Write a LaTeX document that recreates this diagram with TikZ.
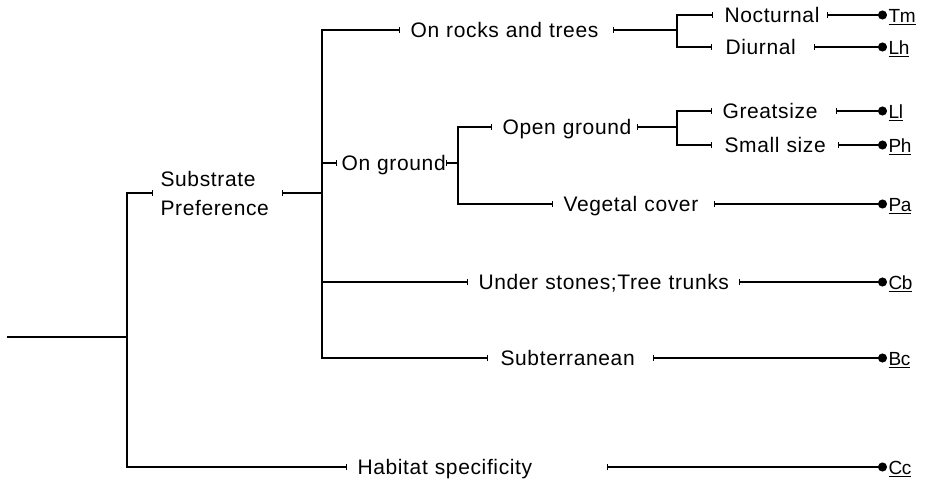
\documentclass[tikz,border=0pt]{standalone}
\usepackage{fontspec}
\setmainfont{Liberation Sans}[LetterSpace=3]
\usetikzlibrary{arrows.meta}

\begin{document}
\begin{tikzpicture}[x=1pt,y=-1pt,
  every path/.style={line width=1.1pt},
  branch/.style={-{Bar[width=6pt,line width=1.1pt]}},
  stem/.style={{Bar[width=6pt,line width=1.1pt]}-},
  lead/.style={{Bar[width=6pt,line width=1.1pt]}-{Circle[length=9pt,width=9pt]}},
  term/.style={anchor=west, inner sep=0pt, align=left,
    text height=15pt, text depth=0pt,
    font=\fontsize{21}{24}\selectfont},
  tag/.style={anchor=west, inner xsep=1pt, inner ysep=0pt,
    text height=15pt, text depth=0pt,
    font=\fontsize{19}{22}\selectfont\addfontfeature{LetterSpace=-2}},
]
\useasboundingbox (0,0) rectangle (929,491);

% character labels
\node[anchor=west, inner sep=0pt, align=left, text width=121pt,
      font=\fontsize{21}{29}\selectfont] (sub) at (160,193)
      {\mbox{Substrate}\\\mbox{Preference}};
\node[term, text width=202pt] (rocks)  at (410,30)  {\mbox{On rocks and trees}};
\node[term, text width=102pt] (noct)   at (724,15)  {\mbox{Nocturnal}};
\node[term, text width=88pt]  (diur)   at (725,47)  {\mbox{Diurnal}};
\node[term, text width=104pt] (ground) at (341,163) {\mbox{On ground}};
\node[term, text width=134pt] (open)   at (502,127) {\mbox{Open ground}};
\node[term, text width=113pt] (great)  at (722,111) {\mbox{Greatsize}};
\node[term, text width=113pt] (small)  at (724,145) {\mbox{Small size}};
\node[term, text width=150pt] (veg)    at (563,204) {\mbox{Vegetal cover}};
\node[term, text width=260pt] (stones) at (478,282) {\mbox{Under stones;Tree trunks}};
\node[term, text width=152pt] (subt)   at (500,358) {\mbox{Subterranean}};
\node[term, text width=249pt] (hab)    at (357,467) {\mbox{Habitat specificity}};

% taxa
\node[tag] (tm) at (887,15)  {\underline{Tm}};
\node[tag] (lh) at (887,47)  {\underline{Lh}};
\node[tag] (ll) at (887,111) {\underline{Ll}};
\node[tag] (ph) at (887,145) {\underline{Ph}};
\node[tag] (pa) at (887,204) {\underline{Pa}};
\node[tag] (cb) at (887,282) {\underline{Cb}};
\node[tag] (bc) at (887,358) {\underline{Bc}};
\node[tag] (cc) at (887,467) {\underline{Cc}};

% junctions
\coordinate (root) at (7,337);
\coordinate (j0) at (127,337);
\coordinate (j1) at (322,193);
\coordinate (j2) at (677,30);
\coordinate (j3) at (458,163);
\coordinate (j4) at (677,127);

% tree
\draw (root) -- (j0);
\draw[branch] (j0) |- ([xshift=-7pt]sub.west);
\draw[branch] (j0) |- ([xshift=-10pt]hab.west);

\draw[stem] (sub.east) -- (j1);
\draw[branch] (j1) |- ([xshift=-10pt]rocks.west);
\draw[branch] (j1) |- ([xshift=-4pt]ground.west);
\draw[branch] (j1) |- ([xshift=-10pt]stones.west);
\draw[branch] (j1) |- ([xshift=-12pt]subt.west);

\draw[stem] (rocks.east) -- (j2);
\draw[branch] (j2) |- ([xshift=-11pt]noct.west);
\draw[branch] (j2) |- ([xshift=-13pt]diur.west);

\draw[stem] (ground.east) -- (j3);
\draw[branch] (j3) |- ([xshift=-10pt]open.west);
\draw[branch] (j3) |- ([xshift=-10pt]veg.west);

\draw[stem] (open.east) -- (j4);
\draw[branch] (j4) |- ([xshift=-10pt]great.west);
\draw[branch] (j4) |- ([xshift=-12pt]small.west);

% leads to the taxa
\draw[lead] (noct.east)   -- (tm.west);
\draw[lead] (diur.east)   -- (lh.west);
\draw[lead] (great.east)  -- (ll.west);
\draw[lead] (small.east)  -- (ph.west);
\draw[lead] (veg.east)    -- (pa.west);
\draw[lead] (stones.east) -- (cb.west);
\draw[lead] (subt.east)   -- (bc.west);
\draw[lead] (hab.east)    -- (cc.west);
\end{tikzpicture}
\end{document}
